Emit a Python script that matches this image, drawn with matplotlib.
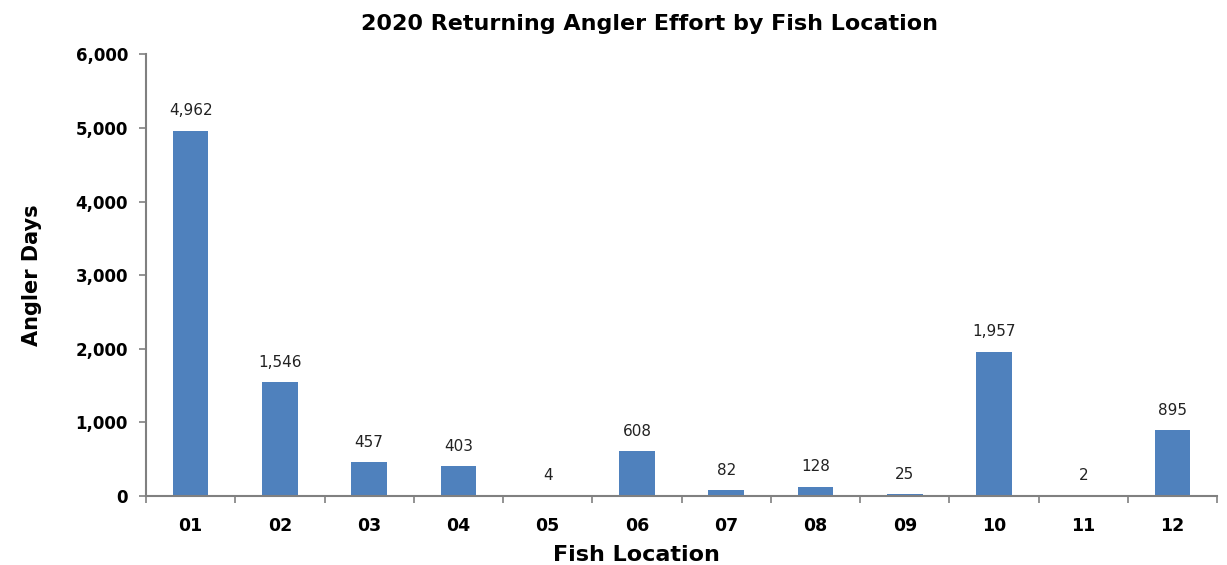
import matplotlib
matplotlib.use('Agg')
from matplotlib import pyplot as plt
import numpy as np

plt.rcParams['font.family'] = ['DejaVu Sans']

locations = ['01', '02', '03', '04', '05', '06', '07', '08', '09', '10', '11', '12']
angler_days = [4962, 1546, 457, 403, 4, 608, 82, 128, 25, 1957, 2, 895]
y_ticks = [0, 1000, 2000, 3000, 4000, 5000, 6000]

fig = plt.figure(figsize=(12.27, 5.65), dpi=100)
ax = fig.add_axes([0.119, 0.122, 0.873, 0.782])

x = np.arange(len(locations))
ax.bar(x, angler_days, width=0.4, color='#4f81bd', zorder=2)

for xi, v in zip(x, angler_days):
    ax.text(xi, v + 170, '{:,}'.format(v), ha='center', va='bottom', fontsize=11, color='#222222')

ax.set_xlim(-0.5, len(locations) - 0.5)
ax.set_ylim(0, 6000)
ax.set_yticks(y_ticks)
ax.set_yticklabels(['{:,}'.format(t) for t in y_ticks], fontsize=12, fontweight='bold')

# category labels centred, tick marks between categories
ax.set_xticks(x)
ax.set_xticklabels(locations, fontsize=12.5, fontweight='bold')
ax.tick_params(axis='x', which='major', length=0, pad=15)
ax.set_xticks(np.arange(-0.5, len(locations)), minor=True)
ax.tick_params(axis='x', which='minor', length=5, width=1.2, color='#808080', direction='out')
ax.tick_params(axis='y', length=5, width=1.2, color='#808080', direction='out', pad=8)

for side in ['top', 'right']:
    ax.spines[side].set_visible(False)
for side in ['left', 'bottom']:
    ax.spines[side].set_color('#808080')
    ax.spines[side].set_linewidth(1.5)

fig.text(649 / 1227, 1 - 24 / 565, '2020 Returning Angler Effort by Fish Location',
         fontsize=16, fontweight='bold', ha='center', va='center')
fig.text(636 / 1227, 1 - 555 / 565, 'Fish Location',
         fontsize=16, fontweight='bold', ha='center', va='center')
ax.set_ylabel('Angler Days', fontsize=15, fontweight='bold', labelpad=24)

fig.savefig('out.png', dpi=100)
